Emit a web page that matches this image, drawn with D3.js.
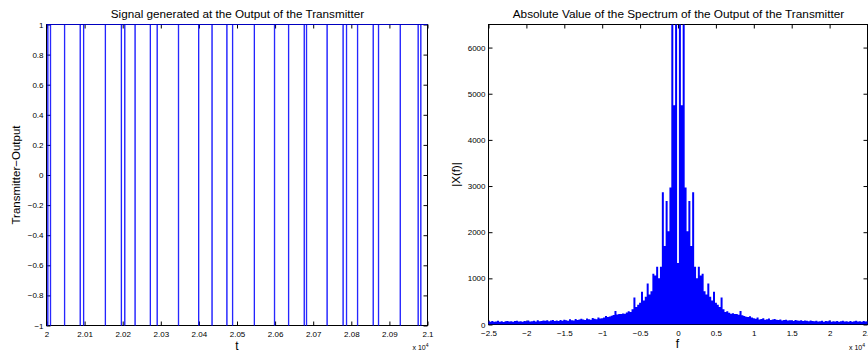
<!DOCTYPE html>
<html><head><meta charset="utf-8">
<script src="https://cdn.jsdelivr.net/npm/d3@7"></script>
<style>
body{margin:0;background:#fff}
svg{display:block}
text{font-family:"Liberation Sans",Arial,Helvetica,sans-serif;fill:#000}
</style>
</head><body>
<svg id="c" width="868" height="356"></svg>
<script>
// ---------- DATA ----------
// Left plot: transmitter output, short dips to -1 (start times, in samples)
const pulseTimes = [20003, 20010, 20047, 20088, 20097, 20154, 20196, 20205, 20232, 20272,
  20290, 20346, 20399, 20434, 20473, 20488, 20545, 20598, 20635, 20676,
  20682, 20736, 20778, 20787, 20816, 20857, 20871, 20928, 20975, 20982];
const pulseWidth = 1;
const tDomain = [20000, 21000];
const tTickValues = [20000, 20100, 20200, 20300, 20400, 20500, 20600, 20700, 20800, 20900, 21000];
const tTickLabels = ["2", "2.01", "2.02", "2.03", "2.04", "2.05", "2.06", "2.07", "2.08", "2.09", "2.1"];
const sigYTickValues = [-1, -0.8, -0.6, -0.4, -0.2, 0, 0.2, 0.4, 0.6, 0.8, 1];
const sigYTickLabels = ["\u22121", "\u22120.8", "\u22120.6", "\u22120.4", "\u22120.2", "0", "0.2", "0.4", "0.6", "0.8", "1"];

// Right plot: |X(f)| sampled every 250 Hz from -25000 to 25000
const specFreqStart = -25000;
const specFreqStep = 250;
const specMag = [
  70, 62, 75, 58, 66, 80, 61, 72, 55, 68, 77, 63, 70, 59, 74, 82, 66, 71, 60, 78,
  69, 85, 64, 73, 80, 67, 90, 72, 76, 84,
  79, 92, 70, 86, 95, 78, 88, 74, 98, 83, 105, 90, 80, 112, 94, 88, 118, 99, 106, 125,
  110, 98, 130, 115, 104, 140, 122, 112, 150, 128,
  135, 150, 185, 160, 175, 190, 205, 290, 215, 230,
  225, 240, 235, 260, 285, 270, 330, 585, 380, 430,
  470, 710, 520, 600, 890, 650, 720, 1100, 1060, 1250,
  1000, 1250, 2866, 1700, 2677, 2020, 2967, 9000, 4750, 9000,
  1330,
  9000, 4750, 9000, 2967, 2020, 2677, 1700, 2866, 1250, 1000,
  1250, 1060, 1100, 720, 650, 890, 600, 520, 710, 470,
  430, 380, 585, 330, 270, 285, 255, 235, 245, 225,
  230, 210, 290, 200, 185, 170, 165, 180, 150, 135,
  125, 150, 110, 118, 135, 104, 112, 128, 98, 108,
  120, 102, 95, 110, 88, 98, 105, 84, 92, 90, 78, 96, 85, 80, 92, 74, 86, 79, 70, 88,
  76, 68, 82, 64, 72, 79, 60, 74, 69, 85, 62, 71, 66, 78, 58, 73, 80, 65, 70, 62,
  75, 57, 68, 82, 64, 71, 60, 76, 66, 70
];
const fDomain = [-25000, 25000];
const fTickValues = [-25000, -20000, -15000, -10000, -5000, 0, 5000, 10000, 15000, 20000, 25000];
const fTickLabels = ["\u22122.5", "\u22122", "\u22121.5", "\u22121", "\u22120.5", "0", "0.5", "1", "1.5", "2", "2.5"];
const magDomain = [0, 6500];
const magTickValues = [0, 1000, 2000, 3000, 4000, 5000, 6000];
const magTickLabels = ["0", "1000", "2000", "3000", "4000", "5000", "6000"];

// ---------- DRAW ----------
const svg = d3.select("#c");
const BLUE = "#0000ff";
const TICK_FS = 8;

function frame(g, x, y, xVals, xLabs, yVals, yLabs) {
  const [x0, x1] = x.range(), [y0, y1] = y.range();
  const bottom = d3.axisBottom(x).tickValues(xVals).tickFormat((d, i) => xLabs[i]).tickSize(-4).tickSizeOuter(0).tickPadding(5.5);
  const top = d3.axisTop(x).tickValues(xVals).tickFormat("").tickSize(-4).tickSizeOuter(0);
  const left = d3.axisLeft(y).tickValues(yVals).tickFormat((d, i) => yLabs[i]).tickSize(-4).tickSizeOuter(0).tickPadding(3);
  const right = d3.axisRight(y).tickValues(yVals).tickFormat("").tickSize(-4).tickSizeOuter(0);
  const gb = g.append("g").attr("transform", `translate(0,${y0})`).call(bottom);
  const gt = g.append("g").attr("transform", `translate(0,${y1})`).call(top);
  const gl = g.append("g").attr("transform", `translate(${x0},0)`).call(left);
  const gr = g.append("g").attr("transform", `translate(${x1},0)`).call(right);
  [gb, gt, gl, gr].forEach(a => {
    a.select(".domain").remove();
    a.selectAll("line").attr("stroke", "#000").attr("stroke-width", 1);
    a.selectAll("text").attr("font-size", TICK_FS).attr("fill", "#222")
      .style("font-family", '"Liberation Sans",Arial,sans-serif');
  });
  g.append("rect").attr("x", x0).attr("y", y1).attr("width", x1 - x0).attr("height", y0 - y1)
    .attr("fill", "none").attr("stroke", "#000").attr("stroke-width", 1);
}

// ----- Left plot -----
const L = {l: 46.5, r: 427.5, t: 24.5, b: 325.5};
const xT = d3.scaleLinear().domain(tDomain).range([L.l, L.r]);
const yS = d3.scaleLinear().domain([-1, 1]).range([L.b, L.t]);
const gL = svg.append("g");
svg.append("clipPath").attr("id", "clipL").append("rect")
  .attr("x", L.l - 1).attr("y", L.t - 1).attr("width", L.r - L.l + 2).attr("height", L.b - L.t + 2);

const sigPts = [[tDomain[0], 1]];
pulseTimes.forEach(p => {
  sigPts.push([p, 1], [p, -1], [p + pulseWidth, -1], [p + pulseWidth, 1]);
});
sigPts.push([tDomain[1], 1]);

frame(gL, xT, yS, tTickValues, tTickLabels, sigYTickValues, sigYTickLabels);
gL.append("path").attr("clip-path", "url(#clipL)")
  .attr("d", d3.line().x(d => xT(d[0])).y(d => yS(d[1]))(sigPts))
  .attr("fill", "none").attr("stroke", BLUE).attr("stroke-width", 0.75);

gL.append("text").attr("x", 237.5).attr("y", 17.5).attr("text-anchor", "middle")
  .attr("font-size", 11.7).attr("fill", "#111").text("Signal generated at the Output of the Transmitter");
gL.append("text").attr("x", 237).attr("y", 350).attr("text-anchor", "middle")
  .attr("font-size", 12).text("t");
gL.append("text").attr("transform", `translate(20,${(L.t + L.b) / 2}) rotate(-90)`).attr("text-anchor", "middle")
  .attr("font-size", 11.5).text("Transmitter\u2212Output");
const xl = gL.append("text").attr("x", L.r + 1).attr("y", 350).attr("text-anchor", "end").attr("font-size", 7);
xl.append("tspan").text("x 10");
xl.append("tspan").attr("dy", -3).attr("font-size", 5).text("4");

// ----- Right plot -----
const R = {l: 488.5, r: 867.5, t: 24.5, b: 324.5};
const xF = d3.scaleLinear().domain(fDomain).range([R.l, R.r]);
const yM = d3.scaleLinear().domain(magDomain).range([R.b, R.t]);
const gR = svg.append("g");
svg.append("clipPath").attr("id", "clipR").append("rect")
  .attr("x", R.l).attr("y", R.t).attr("width", R.r - R.l).attr("height", R.b - R.t);

frame(gR, xF, yM, fTickValues, fTickLabels, magTickValues, magTickLabels);
const specPath = specMag.map((v, i) => {
  const x = xF(specFreqStart + i * specFreqStep);
  return `M${x},${yM(0)}V${yM(v)}`;
}).join("");
gR.append("path").attr("clip-path", "url(#clipR)").attr("d", specPath)
  .attr("fill", "none").attr("stroke", BLUE).attr("stroke-width", 2);

gR.append("text").attr("x", 678.5).attr("y", 18).attr("text-anchor", "middle")
  .attr("font-size", 11.8).attr("fill", "#111").text("Absolute Value of the Spectrum of the Output of the Transmitter");
gR.append("text").attr("x", 677.5).attr("y", 348).attr("text-anchor", "middle")
  .attr("font-size", 12).text("f");
gR.append("text").attr("transform", `translate(460,${(R.t + R.b) / 2}) rotate(-90)`).attr("text-anchor", "middle")
  .attr("font-size", 11.5).text("|X(f)|");
const xr = gR.append("text").attr("x", 849).attr("y", 350).attr("text-anchor", "start").attr("font-size", 7);
xr.append("tspan").text("x 10");
xr.append("tspan").attr("dy", -3).attr("font-size", 5).text("4");
</script>
</body></html>
